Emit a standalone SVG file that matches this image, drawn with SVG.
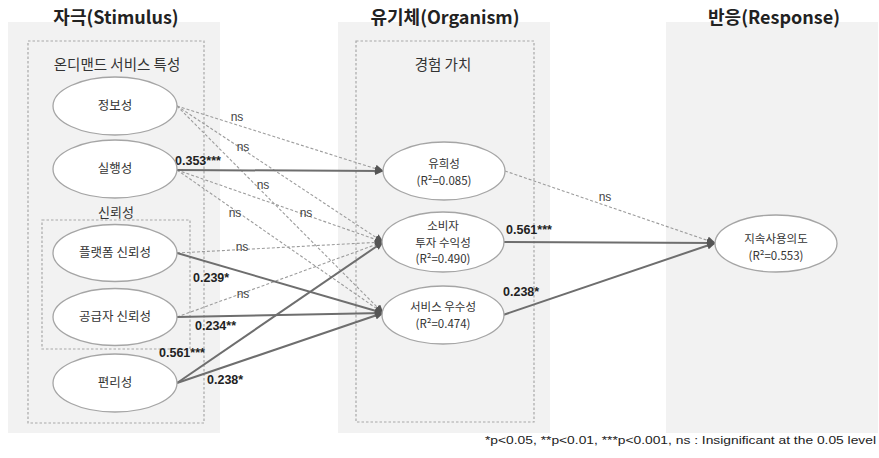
<svg xmlns="http://www.w3.org/2000/svg" width="879" height="458" viewBox="0 0 879 458">
<defs>
<style>
.panel{fill:#f2f2f2;stroke:none}
.dbox{fill:none;stroke:#a8a8a8;stroke-width:1.2;stroke-dasharray:2.5 2}
.title{font-family:"Noto Sans CJK KR","Noto Sans",sans-serif;font-size:18px;font-weight:bold;fill:#222;text-anchor:middle}
.gtitle{font-family:"Noto Sans CJK KR",sans-serif;font-size:14.5px;fill:#333;text-anchor:middle}
.node ellipse{fill:#fff;stroke:#a5a5a5;stroke-width:1.3}
.node text{font-family:"Noto Sans CJK KR",sans-serif;font-size:12.5px;fill:#333;text-anchor:middle}
.node text.m{font-size:11.5px}
.dash{fill:none;stroke:#9c9c9c;stroke-width:1.1;stroke-dasharray:3 2;marker-end:url(#ah)}
.solid{fill:none;stroke:#6e6e6e;stroke-width:2;marker-end:url(#ah)}
.ns{font-family:"Liberation Sans",sans-serif;font-size:12px;fill:#444;text-anchor:middle}
.coef{font-family:"Liberation Sans",sans-serif;font-size:12.5px;font-weight:bold;fill:#222}
.note{font-family:"Liberation Sans",sans-serif;font-size:11.5px;fill:#222}
</style>
<marker id="ah" markerUnits="userSpaceOnUse" markerWidth="9" markerHeight="8" refX="8" refY="4" orient="auto">
<path d="M0,0 L9,4 L0,8 z" fill="#555"/>
</marker>
</defs>

<g id="panels">
<rect class="panel" x="8" y="22" width="212" height="411"/>
<rect class="panel" x="338" y="22" width="212" height="411"/>
<rect class="panel" x="666" y="22" width="212" height="411"/>
<rect class="dbox" x="28" y="41" width="176" height="382"/>
<rect class="dbox" x="42" y="220" width="148" height="129"/>
<rect class="dbox" x="356" y="41" width="178" height="381"/>
<text class="title" x="116" y="24">자극(Stimulus)</text>
<text class="title" x="445" y="24">유기체(Organism)</text>
<text class="title" x="774" y="24">반응(Response)</text>
<text class="gtitle" x="117" y="70">온디맨드 서비스 특성</text>
<text class="gtitle" x="116" y="217" style="font-size:13px">신뢰성</text>
<text class="gtitle" x="443" y="70">경험 가치</text>
</g>

<g id="connectors">
<line class="dash" x1="177" y1="106" x2="383" y2="171"/>
<line class="dash" x1="177" y1="106" x2="383" y2="242"/>
<line class="dash" x1="177" y1="106" x2="383" y2="313"/>
<line class="dash" x1="177" y1="170" x2="383" y2="242"/>
<line class="dash" x1="177" y1="170" x2="383" y2="313"/>
<line class="dash" x1="177" y1="253" x2="383" y2="242"/>
<line class="dash" x1="177" y1="317" x2="383" y2="242"/>
<line class="dash" x1="505" y1="171" x2="715" y2="243"/>
<line class="solid" x1="177" y1="170" x2="383" y2="171"/>
<line class="solid" x1="177" y1="253" x2="383" y2="313"/>
<line class="solid" x1="177" y1="317" x2="383" y2="313"/>
<line class="solid" x1="177" y1="383" x2="383" y2="242"/>
<line class="solid" x1="177" y1="383" x2="383" y2="313"/>
<line class="solid" x1="503" y1="242" x2="715" y2="243"/>
<line class="solid" x1="503" y1="315" x2="715" y2="243"/>
<text class="ns" x="237" y="121">ns</text>
<text class="ns" x="243" y="151">ns</text>
<text class="ns" x="263" y="189">ns</text>
<text class="ns" x="235" y="217">ns</text>
<text class="ns" x="306" y="217">ns</text>
<text class="ns" x="242" y="251">ns</text>
<text class="ns" x="243" y="298">ns</text>
<text class="ns" x="605" y="201">ns</text>
<text class="coef" x="175" y="165">0.353***</text>
<text class="coef" x="193" y="282">0.239*</text>
<text class="coef" x="195" y="330">0.234**</text>
<text class="coef" x="159" y="357">0.561***</text>
<text class="coef" x="207" y="384">0.238*</text>
<text class="coef" x="506" y="234">0.561***</text>
<text class="coef" x="503" y="296">0.238*</text>
</g>

<g id="n-info" class="node"><ellipse cx="115" cy="106" rx="62" ry="29"/><text x="115" y="110">정보성</text></g>
<g id="n-exec" class="node"><ellipse cx="115" cy="169" rx="62" ry="29"/><text x="115" y="173">실행성</text></g>
<g id="n-platform" class="node"><ellipse cx="115" cy="253" rx="62" ry="28.5"/><text x="115" y="257">플랫폼 신뢰성</text></g>
<g id="n-supplier" class="node"><ellipse cx="115" cy="317" rx="62" ry="28.5"/><text x="115" y="321">공급자 신뢰성</text></g>
<g id="n-conv" class="node"><ellipse cx="115" cy="383" rx="62" ry="29"/><text x="115" y="387">편리성</text></g>

<g id="n-fun" class="node"><ellipse cx="444" cy="171" rx="61" ry="29"/><text class="m" x="444" y="168">유희성</text><text class="m" x="444" y="185">(R²=0.085)</text></g>
<g id="n-roi" class="node"><ellipse cx="443" cy="242" rx="61" ry="30"/><text class="m" x="443" y="230">소비자</text><text class="m" x="443" y="246.5">투자 수익성</text><text class="m" x="443" y="263">(R²=0.490)</text></g>
<g id="n-svc" class="node"><ellipse cx="443" cy="315" rx="61" ry="29"/><text class="m" x="443" y="311">서비스 우수성</text><text class="m" x="443" y="328">(R²=0.474)</text></g>

<g id="n-intent" class="node"><ellipse cx="776" cy="243.5" rx="61" ry="28.5"/><text class="m" x="776" y="243">지속사용의도</text><text class="m" x="776" y="260">(R²=0.553)</text></g>

<text class="note" x="485" y="444" textLength="391" lengthAdjust="spacingAndGlyphs">*p&lt;0.05, **p&lt;0.01, ***p&lt;0.001, ns : Insignificant at the 0.05 level</text>
</svg>
